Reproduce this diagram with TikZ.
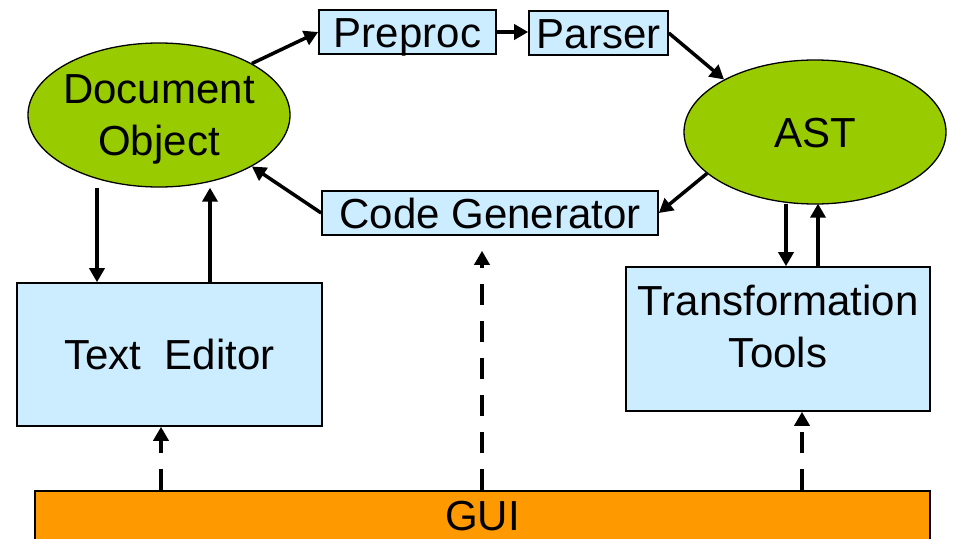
\documentclass[tikz,border=0pt]{standalone}
\usepackage{fontspec}
\setmainfont{Liberation Sans}
\usetikzlibrary{arrows.meta,calc,shapes.geometric}
\definecolor{elgreen}{HTML}{99CC00}
\definecolor{boxblue}{HTML}{CCECFF}
\definecolor{guiorange}{HTML}{FF9900}
\tikzset{
  ell/.style={ellipse,draw=black,line width=1.3pt,fill=elgreen,inner sep=0pt,
    minimum width=262pt,minimum height=144pt,align=center},
  bbox/.style={rectangle,draw=black,line width=1.6pt,fill=boxblue,inner sep=0pt,
    text height=30pt,text depth=0pt},
  conn/.style={line width=3.5pt,-{Triangle[length=14pt,width=15pt]}},
  dconn/.style={conn,dash pattern=on 21pt off 16pt},
  txt/.style={inner sep=0pt,align=center}
}
\begin{document}
\begin{tikzpicture}[x=1pt,y=-1pt,font=\fontsize{42}{52}\selectfont]
\clip (0,0) rectangle (955,538);
\fill[white] (0,0) rectangle (955,538);
% nodes
\node[ell] (doc) at (159,115) {};
\node[txt,anchor=base] (doct) at (159,155) {Document\\Object};
\node[ell,text height=30pt,text depth=0pt] (ast) at (815,132) {AST};
\node[bbox,minimum width=177pt,minimum height=44pt] (pre) at (407.5,32) {Preproc};
\node[bbox,minimum width=139pt,minimum height=44pt] (par) at (598.5,33) {Parser};
\node[bbox,minimum width=336pt,minimum height=44pt] (cg) at (490,213) {Code Generator};
\node[bbox,minimum width=305pt,minimum height=143pt] (te) at (169.5,354.5) {Text~~Editor};
\node[bbox,minimum width=304pt,minimum height=144pt] (tt) at (778,339) {};
\node[txt,anchor=base] (ttt) at (778,367) {Transformation\\Tools};
\node[rectangle,draw=black,line width=1.6pt,fill=guiorange,inner sep=0pt,
  minimum width=895pt,minimum height=70pt,anchor=north] (gui) at (482.5,490) {};
\node[txt,anchor=base] (guit) at (482.5,530) {GUI};
% solid connectors
\draw[conn] (doc.29) -- (pre.west);
\draw[conn] (pre.east) -- (pre.east -| par.west);
\draw[conn] (par.east) -- (ast.150);
\draw[conn] (ast.201) -- (cg.east);
\draw[conn] (cg.west) -- (doc.-29);
\coordinate (d1) at ($(doc.south)+(-62,0)$);
\coordinate (d2) at ($(doc.south)+(51,0)$);
\draw[conn] (d1) -- (d1 |- te.north);
\draw[conn] (d2 |- te.north) -- (d2);
\coordinate (a1) at ($(ast.south)+(-29,-1)$);
\coordinate (a2) at ($(ast.south)+(3,-1)$);
\draw[conn] (a1) -- (a1 |- tt.north);
\draw[conn] (a2 |- tt.north) -- (a2);
% dashed connectors
\coordinate (g1) at ($(gui.north)+(-321.5,0)$);
\coordinate (g2) at ($(gui.north)+(-0.5,0)$);
\coordinate (g3) at ($(gui.north)+(319.5,0)$);
\coordinate (cgb) at ($(cg.south)+(0,15)$);
\draw[dconn] (g1) -- (g1 |- te.south);
\draw[dconn] (g2) -- (g2 |- cgb);
\draw[dconn] (g3) -- (g3 |- tt.south);
\end{tikzpicture}
\end{document}
